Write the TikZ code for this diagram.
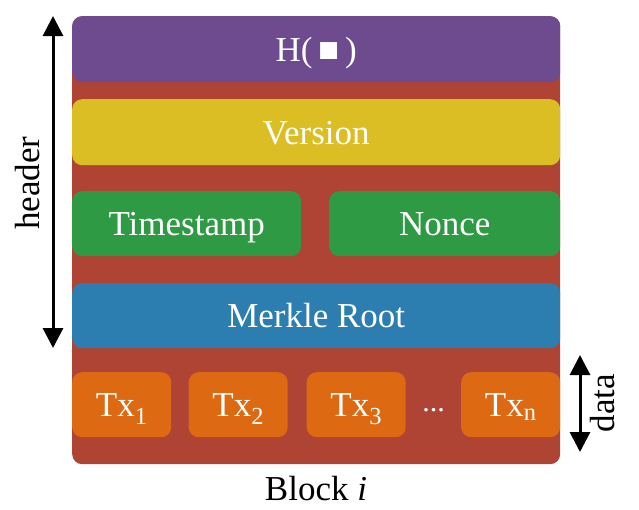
\documentclass[tikz,border=0pt]{standalone}
\usepackage{fontspec}
\setmainfont{Liberation Serif}
\usetikzlibrary{arrows.meta}

\definecolor{blockred}{RGB}{175,68,52}
\definecolor{hashpurple}{RGB}{110,74,142}
\definecolor{versionyellow}{RGB}{219,190,35}
\definecolor{fieldgreen}{RGB}{46,154,67}
\definecolor{merkleblue}{RGB}{45,126,176}
\definecolor{txorange}{RGB}{221,106,18}

\begin{document}
\begin{tikzpicture}[x=1pt, y=-1pt,
	blockfield/.style={rounded corners=10pt, text=white, inner sep=0pt,
		anchor=north west, minimum height=65pt,
		text height=25pt, text depth=1pt,
		font=\fontsize{35}{40}\selectfont},
	span/.style={line width=3pt, {Triangle[width=20pt,length=20pt]}-{Triangle[width=20pt,length=20pt]}},
	spanlabel/.style={rotate=90, font=\fontsize{35}{40}\selectfont}]

	\useasboundingbox (0,0) rectangle (639,509);

	\coordinate (origin) at (72,16);
	\coordinate (header_top) at (53,16);
	\coordinate (header_bottom) at (53,348);
	\coordinate (data_top) at (580,355);
	\coordinate (data_bottom) at (580,452);

	\def\txWidth{99pt}

	% Block
	\node[fill=blockred, rounded corners=10pt, anchor=north west, inner sep=0pt,
		minimum width=488pt, minimum height=448pt] (block) at (origin) {};

	% Header fields
	\node[blockfield, fill=hashpurple, minimum width=488pt, minimum height=66pt]
		(hash) at (origin) {H(\,■\,)};
	\node[blockfield, fill=versionyellow, minimum width=488pt, minimum height=66pt]
		(version) at (72,99) {Version};
	\node[blockfield, fill=fieldgreen, minimum width=229pt]
		(timestamp) at (72,191) {Timestamp};
	\node[blockfield, fill=fieldgreen, minimum width=231pt]
		(nonce) at (329,191) {Nonce};
	\node[blockfield, fill=merkleblue, minimum width=488pt]
		(merkle) at (72,283) {Merkle Root};

	% Transactions
	\node[blockfield, fill=txorange, minimum width=\txWidth]
		(tx1) at (72,372) {Tx\textsubscript{1}};
	\node[blockfield, fill=txorange, minimum width=\txWidth]
		(tx2) at (188.5,372) {Tx\textsubscript{2}};
	\node[blockfield, fill=txorange, minimum width=\txWidth]
		(tx3) at (306.5,372) {Tx\textsubscript{3}};
	\node[blockfield, fill=txorange, minimum width=\txWidth]
		(txn) at (461,372) {Tx\textsubscript{n}};
	\node[text=white, font=\fontsize{30}{35}\selectfont, anchor=base]
		(dots) at (433.5,411) {...};

	% Spans
	\draw[span] (header_top) -- (header_bottom);
	\node[spanlabel] (header) at (28,183) {header};
	\draw[span] (data_top) -- (data_bottom);
	\node[spanlabel] (data) at (603,403) {data};

	% Caption
	\node[font=\fontsize{35}{40}\selectfont, anchor=base]
		(caption) at (316,500) {Block \textit{i}};

\end{tikzpicture}
\end{document}
